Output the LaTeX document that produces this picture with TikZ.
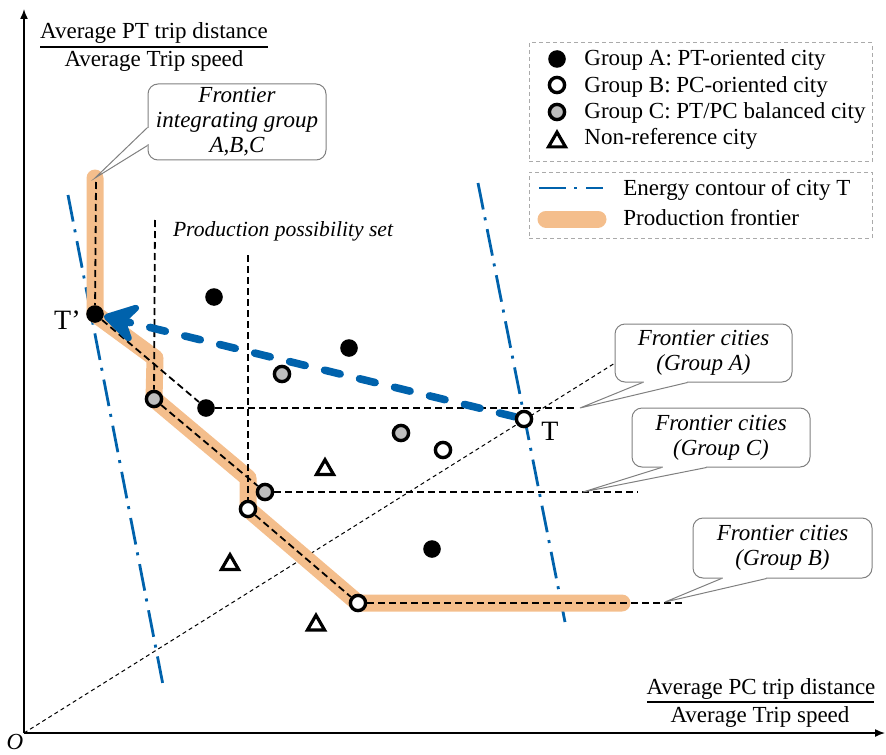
\documentclass[tikz,border=0pt]{standalone}
\usepackage{fontspec}
\setmainfont{Liberation Serif}
\usetikzlibrary{arrows.meta,shapes.geometric,calc,backgrounds}
\definecolor{frontier}{RGB}{244,190,140}
\definecolor{contour}{RGB}{0,98,172}
\definecolor{midgray}{RGB}{190,190,190}
\definecolor{boxgray}{RGB}{128,128,128}
\definecolor{leggray}{RGB}{170,170,170}

\begin{document}
\begin{tikzpicture}[x=0.5pt,y=-0.5pt,
  font=\fontsize{11.5}{12.5}\selectfont,
  axis/.style={line width=0.75pt,-{Latex[length=5pt,width=4pt]}},
  ptA/.style={circle,fill=black,inner sep=0pt,minimum size=8.8pt},
  ptB/.style={circle,draw=black,line width=1.7pt,fill=white,inner sep=0pt,minimum size=7.6pt},
  ptC/.style={ptB,fill=midgray},
  ptN/.style={regular polygon,regular polygon sides=3,draw=black,line width=1.6pt,inner sep=0pt,minimum size=9.8pt},
  guide/.style={line width=0.9pt,dash pattern=on 3.5pt off 2pt},
  ray/.style={line width=0.5pt,dash pattern=on 2pt off 1.6pt},
  frontierline/.style={line width=8.5pt,frontier,line cap=round,line join=round},
  contourline/.style={line width=1.4pt,contour,dash pattern=on 13.5pt off 4pt on 1.5pt off 4.5pt},
  movearrow/.style={line width=3.8pt,contour,line cap=round,dash pattern=on 8pt off 10pt,
    -{Stealth[length=21pt,width=25pt,inset=8pt,round]}},
  callbox/.style={draw=boxgray,line width=0.5pt,rounded corners=5pt,fill=white,align=center,
    font=\fontsize{11.5}{12.5}\selectfont\itshape,inner sep=0pt},
  callptr/.style={draw=boxgray,line width=0.5pt},
  callcover/.style={draw=white,line width=1.2pt},
  legendbox/.style={draw=leggray,line width=0.5pt,dash pattern=on 2pt off 1.5pt,inner sep=0pt},
  legtext/.style={anchor=base west,inner sep=0pt},
]
\useasboundingbox (0,0) rectangle (886,754);

% axes
\coordinate (O) at (24,733);
\coordinate (ytop) at (24,9);
\coordinate (xend) at (885,733);
\draw[axis] (O) -- (ytop);
\draw[axis] (O) -- (xend);
\node[anchor=base,inner sep=0pt,font=\fontsize{11.5}{12.5}\selectfont\itshape] (olab) at (15,749) {O};

% axis labels as fractions
\node[anchor=base,inner sep=0pt] (ynum) at (154,39) {Average PT trip distance};
\draw[line width=0.75pt] (40,47) -- (268,47);
\node[anchor=base,inner sep=0pt] (yden) at (154,67) {Average Trip speed};
\node[anchor=base,inner sep=0pt] (xnum) at (761,694) {Average PC trip distance};
\draw[line width=0.75pt] (647,702) -- (874,702);
\node[anchor=base,inner sep=0pt] (xden) at (760,722) {Average Trip speed};

% cities: group A (PT-oriented)
\node[ptA] (Tp) at (95,314) {};
\node[ptA] (a1) at (214,297) {};
\node[ptA] (a2) at (349,348) {};
\node[ptA] (a3) at (206,408) {};
\node[ptA] (a4) at (432,549) {};
% group C (balanced)
\node[ptC] (c1) at (282,374) {};
\node[ptC] (c2) at (154,399) {};
\node[ptC] (c3) at (401,433) {};
\node[ptC] (c4) at (265,492) {};
% group B (PC-oriented)
\node[ptB] (T) at (524,419) {};
\node[ptB] (b1) at (443,450) {};
\node[ptB] (b2) at (248,509) {};
\node[ptB] (b3) at (358,603) {};
% non-reference cities
\node[ptN] (n1) at (325,469.5) {};
\node[ptN] (n2) at (230,564.5) {};
\node[ptN] (n3) at (316,625) {};

\node[anchor=base east,inner sep=0pt,font=\fontsize{14}{16}\selectfont] (Tplab) at (81,329) {T’};
\node[anchor=base west,inner sep=0pt,font=\fontsize{14}{16}\selectfont] (Tlab) at (541,440) {T};

\coordinate (ftop) at (95,178);
\coordinate (gtop) at (96,182);
\coordinate (f1) at (155,358);
\coordinate (f2) at (248,478);
\coordinate (fend) at (622,603);
\coordinate (v1top) at (155,220);
\coordinate (v2top) at (248,255);
\coordinate (endA) at (578,408);
\coordinate (endC) at (638,492);
\coordinate (endB) at (683,603);
\coordinate (rayend) at (615,363);
\coordinate (cl1) at (68,195);
\coordinate (cl2) at (163,685);
\coordinate (cr1) at (478,183);
\coordinate (cr2) at (565,622);

\begin{scope}[on background layer]
  % energy contours of city T
  \draw[contourline] (cl1) -- (cl2);
  \draw[contourline] (cr1) -- (cr2);
  % ray from the origin through T
  \draw[ray] (O) -- (rayend);
  % production frontier
  \draw[frontierline] (ftop) -- (Tp.center) -- (f1) -- (c2.center) -- (f2)
    -- (b2.center) -- (b3.center) -- (fend);
  % production possibility set boundaries
  \draw[guide] (gtop) -- (Tp);
  \draw[guide] (Tp) -- (a3);
  \draw[guide] (a3) -- (endA);
  \draw[guide] (v1top) -- (c2);
  \draw[guide] (c2) -- (c4);
  \draw[guide] (c4) -- (endC);
  \draw[guide] (v2top) -- (b2);
  \draw[guide] (b2) -- (b3);
  \draw[guide] (b3) -- (endB);
  % projection of T onto the frontier
  \draw[movearrow] (T) -- (Tp);
\end{scope}

\node[anchor=base,inner sep=0pt,font=\fontsize{10.8}{12}\selectfont\itshape] (pps) at (283,236) {Production possibility set};

% callouts
\node[callbox,minimum width=89pt,minimum height=38pt] (cfABC) at (237,122) {Frontier\\integrating group\\A,B,C};
\draw[callcover] ($(cfABC.north west)+(0,45)$) -- ($(cfABC.north west)+(0,61)$);
\draw[callptr] ($(cfABC.north west)+(0,44)$) -- (ftop) -- ($(cfABC.north west)+(0,62)$);

\node[callbox,minimum width=88.5pt,minimum height=29pt] (cfA) at (703.5,353) {Frontier cities\\(Group A)};
\coordinate (tipA) at (580,408);
\draw[callcover] ($(cfA.south west)+(29,0)$) -- ($(cfA.south west)+(72,0)$);
\draw[callptr] ($(cfA.south west)+(28,0)$) -- (tipA) -- ($(cfA.south west)+(73,0)$);

\node[callbox,minimum width=89pt,minimum height=29.5pt] (cfC) at (721,437.5) {Frontier cities\\(Group C)};
\coordinate (tipC) at (583,492);
\draw[callcover] ($(cfC.south west)+(31,0)$) -- ($(cfC.south west)+(74,0)$);
\draw[callptr] ($(cfC.south west)+(30,0)$) -- (tipC) -- ($(cfC.south west)+(75,0)$);

\node[callbox,minimum width=89.5pt,minimum height=30pt] (cfB) at (782.5,548) {Frontier cities\\(Group B)};
\coordinate (tipB) at (665,602);
\draw[callcover] ($(cfB.south west)+(30,0)$) -- ($(cfB.south west)+(73,0)$);
\draw[callptr] ($(cfB.south west)+(29,0)$) -- (tipB) -- ($(cfB.south west)+(74,0)$);

% legend
\node[legendbox,minimum width=171.5pt,minimum height=59.5pt] (legA) at (700.5,102.5) {};
\node[ptA] (lgA) at (557,59) {};
\node[ptB] (lgB) at (557,85) {};
\node[ptC] (lgC) at (557,112) {};
\node[ptN] (lgN) at (557,142) {};
\node[legtext] (ltA) at (584,66) {Group A: PT-oriented city};
\node[legtext] (ltB) at (584,93) {Group B: PC-oriented city};
\node[legtext] (ltC) at (584,119) {Group C: PT/PC balanced city};
\node[legtext] (ltN) at (584,145) {Non-reference city};

\node[legendbox,minimum width=171.5pt,minimum height=33pt] (legB) at (700.5,205) {};
\coordinate (lc1) at (539,188);
\coordinate (lc2) at (603,188);
\coordinate (lf1) at (546,219);
\coordinate (lf2) at (598,219);
\draw[contourline] (lc1) -- (lc2);
\draw[frontierline] (lf1) -- (lf2);
\node[legtext] (ltE) at (623,195) {Energy contour of city T};
\node[legtext] (ltF) at (623,225) {Production frontier};
\end{tikzpicture}
\end{document}
